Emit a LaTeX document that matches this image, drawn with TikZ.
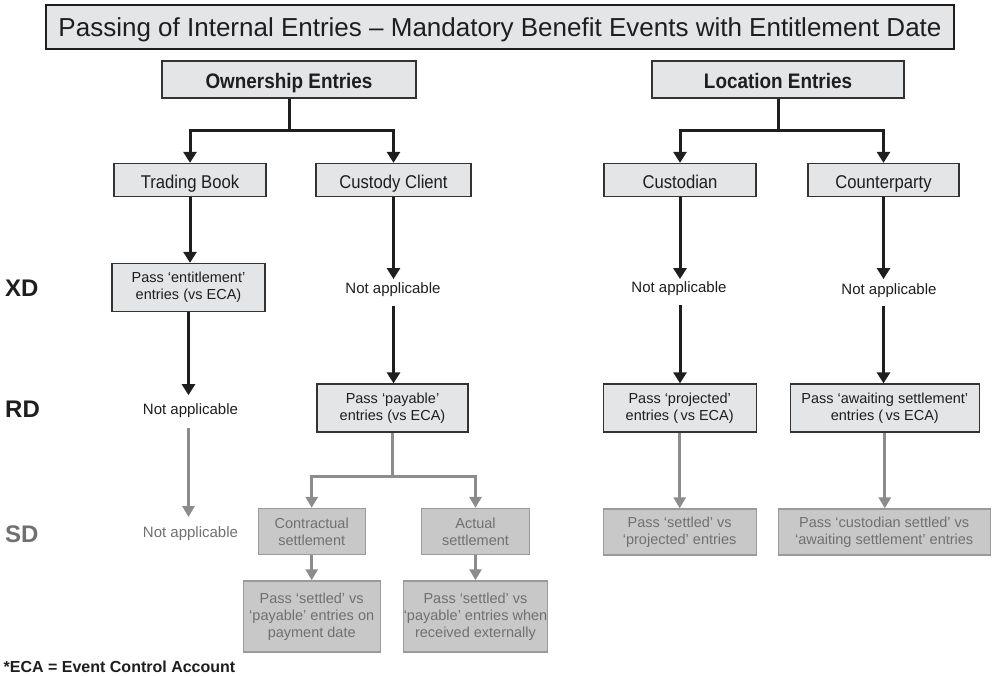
\documentclass[tikz,border=0pt]{standalone}
\usepackage{fontspec}
\setmainfont{Liberation Sans}
\newfontfamily\narrowsans[FakeStretch=0.9]{Liberation Sans}
\usetikzlibrary{arrows.meta}
\definecolor{boxfill}{HTML}{E4E5E6}
\definecolor{boxdraw}{HTML}{333333}
\definecolor{ink}{HTML}{1E1E1E}
\definecolor{gfill}{HTML}{C8C8C8}
\definecolor{gdraw}{HTML}{9A9A9A}
\definecolor{gtext}{HTML}{707070}
\definecolor{gline}{HTML}{8C8C8C}
\begin{document}
\begin{tikzpicture}[x=1pt,y=-1pt,
 titlebox/.style={draw=ink, fill=boxfill, line width=2.7pt, minimum width=908pt, minimum height=44pt, inner sep=0pt, text height=18.6pt, text depth=0pt, font=\fontsize{26}{30}\selectfont, text=ink},
 headbox/.style={draw=boxdraw, fill=boxfill, line width=1.3pt, minimum height=37pt, inner sep=0pt, text height=17pt, text depth=0pt, font=\narrowsans\bfseries\fontsize{21}{25}\selectfont, text=ink},
 catbox/.style={draw=boxdraw, fill=boxfill, line width=1.3pt, minimum height=33pt, inner sep=0pt, text height=16pt, text depth=0pt, font=\narrowsans\fontsize{18.5}{22}\selectfont, text=ink},
 stepbox/.style={draw=boxdraw, fill=boxfill, line width=1.3pt, minimum height=48pt, inner sep=0pt, align=center, font=\fontsize{14.5}{17}\selectfont, text=ink},
 gbox/.style={draw=gdraw, fill=gfill, line width=1.3pt, inner sep=0pt, align=center, font=\fontsize{14.5}{17}\selectfont, text=gtext},
 natext/.style={inner sep=0pt, text height=10.5pt, text depth=0pt, font=\fontsize{15}{18}\selectfont, text=ink},
 lvl/.style={anchor=west, inner sep=0pt, font=\bfseries\fontsize{24}{28}\selectfont, text=ink},
 blk/.style={draw=ink, line width=3pt, -{Triangle[width=13pt,length=11pt]}},
 gry/.style={draw=gline, line width=2.7pt, -{Triangle[width=12pt,length=11pt]}},
]
\useasboundingbox (0,0) rectangle (993,675);

% title
\node[titlebox] (title) at (500,27) {Passing of Internal Entries – Mandatory Benefit Events with Entitlement Date};

% headers
\node[headbox, minimum width=254pt] (own) at (289,79.5) {Ownership Entries};
\node[headbox, minimum width=252pt] (loc) at (778,79.5) {Location Entries};

% categories
\node[catbox, minimum width=152pt] (tb) at (190,180) {Trading Book};
\node[catbox, minimum width=155pt] (cc) at (393.5,180) {Custody Client};
\node[catbox, minimum width=152pt] (cu) at (680,180) {Custodian};
\node[catbox, minimum width=151pt] (cp) at (883.5,180) {Counterparty};

\draw[blk] (own.south) -- ++(0,32) -| (tb.north);
\draw[blk] (own.south) -- ++(0,32) -| (cc.north);
\draw[blk] (loc.south) -- ++(0,32) -| (cu.north);
\draw[blk] (loc.south) -- ++(0,32) -| (cp.north);

% level labels
\node[lvl] (xd) at (5,288) {XD};
\node[lvl] (rd) at (5,409.5) {RD};
\node[lvl, text=gtext] (sd) at (5,534.5) {SD};

% XD row
\node[stepbox, minimum width=153pt] (ent) at (188.5,287.5) {Pass ‘entitlement’\\entries (vs ECA)};
\node[natext] (na1) at (393,288.5) {Not applicable};
\node[natext] (na2) at (679,287) {Not applicable};
\node[natext] (na3) at (889,289) {Not applicable};

\draw[blk] (tb.south) -- (tb.south |- ent.north);
\draw[blk, shorten >=4pt] (cc.south) -- (cc.south |- na1.north);
\draw[blk, shorten >=2.5pt] (cu.south) -- (cu.south |- na2.north);
\draw[blk, shorten >=4.5pt] (cp.south) -- (cp.south |- na3.north);

% RD row
\node[stepbox, minimum width=151pt] (pay) at (392.5,408) {Pass ‘payable’\\entries (vs ECA)};
\node[stepbox, minimum width=153pt] (proj) at (679.7,408) {Pass ‘projected’\\entries (\,vs ECA)};
\node[stepbox, minimum width=189pt] (await) at (884.8,408) {Pass ‘awaiting settlement’\\entries (\,vs ECA)};
\node[natext] (na4) at (190.5,409.6) {Not applicable};

\draw[blk, shorten >=9pt] (ent.south) -- (ent.south |- na4.north);
\draw[blk, shorten <=12pt] (cc.south |- na1.south) -- (cc.south |- pay.north);
\draw[blk, shorten <=13pt] (cu.south |- na2.south) -- (cu.south |- proj.north);
\draw[blk, shorten <=11.5pt] (cp.south |- na3.south) -- (cp.south |- await.north);

% SD row
\node[natext, text=gtext] (na5) at (190.5,532) {Not applicable};
\node[gbox, minimum width=107pt, minimum height=46pt] (con) at (311.7,531.5) {Contractual\\settlement};
\node[gbox, minimum width=108pt, minimum height=46pt] (act) at (475.5,531.5) {Actual\\settlement};
\node[gbox, minimum width=137pt, minimum height=71pt] (ppd) at (311.7,616.4) {Pass ‘settled’ vs\\‘payable’ entries on\\payment date};
\node[gbox, minimum width=139pt, minimum height=71pt] (pre) at (475.5,616.4) {Pass ‘settled’ vs\\‘payable’ entries when\\received externally};
\node[gbox, minimum width=153pt, minimum height=46pt] (spr) at (679.7,532) {Pass ‘settled’ vs\\‘projected’ entries};
\node[gbox, minimum width=212pt, minimum height=46pt] (csa) at (884.2,532) {Pass ‘custodian settled’ vs\\‘awaiting settlement’ entries};

\draw[gry, shorten <=13pt, shorten >=9.5pt] (ent.south |- na4.south) -- (ent.south |- na5.north);
\draw[gry] (pay.south) -- ++(0,44) -| (con.north);
\draw[gry] (pay.south) -- ++(0,44) -| (act.north);
\draw[gry] (con.south) -- (ppd.north);
\draw[gry] (act.south) -- (pre.north);
\draw[gry] (proj.south) -- (proj.south |- spr.north);
\draw[gry] (await.south) -- (await.south |- csa.north);

% footnote
\node[anchor=base west, inner sep=0pt, font=\bfseries\fontsize{16}{19}\selectfont, text=ink] (fn) at (3.5,672.5) {*ECA = Event Control Account};
\end{tikzpicture}
\end{document}
